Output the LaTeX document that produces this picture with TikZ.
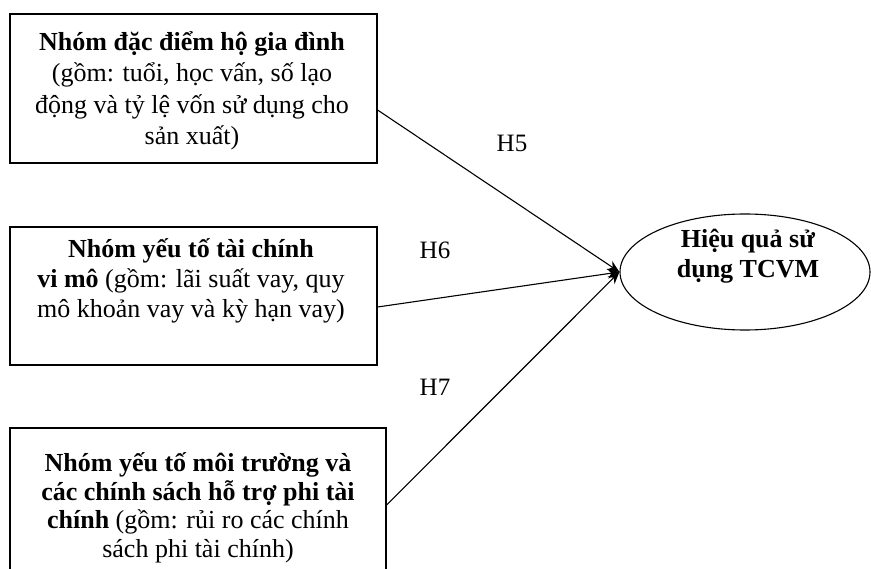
\documentclass[tikz,border=0pt]{standalone}
\usepackage{fontspec}
\setmainfont{Liberation Serif}
\usetikzlibrary{arrows.meta,shapes.geometric,calc}
\begin{document}
\begin{tikzpicture}[x=1pt,y=-1pt,
  boxshape/.style={draw=black,line width=1.1pt,rectangle,inner sep=0pt},
  boxtext/.style={align=center,inner sep=0pt,anchor=base,font=\fontsize{26}{#1}\selectfont},
  hyp/.style={inner sep=0pt,font=\fontsize{25}{30}\selectfont},
  conn/.style={draw=black,line width=1.1pt,-{Stealth[length=12pt,width=10pt]}}]
\clip (0,0) rectangle (871,569);
\fill[white] (0,0) rectangle (871,569);
% boxes
\node[boxshape,minimum width=367pt,minimum height=149pt] (b1) at (193.5,88.5) {};
\node[boxshape,minimum width=367pt,minimum height=138pt] (b2) at (193.5,296) {};
\node[boxshape,minimum width=376pt,minimum height=162pt] (b3) at (198,509) {};
% box texts (base anchor = last line baseline)
\node[boxtext=31.5] (t1) at (192,145) {\textbf{Nhóm đặc điểm hộ gia đình}\\(gồm: tuổi, học vấn, số lạo\\động và tỷ lệ vốn sử dụng cho\\sản xuất)};
\node[boxtext=30] (t2) at (191,318) {\textbf{Nhóm yếu tố tài chính}\\\textbf{vi mô} (gồm: lãi suất vay, quy\\mô khoản vay và kỳ hạn vay)};
\node[boxtext=28.5] (t3) at (198,557) {\textbf{Nhóm yếu tố môi trường và}\\\textbf{các chính sách hỗ trợ phi tài}\\\textbf{chính} (gồm: rủi ro các chính\\sách phi tài chính)};
% ellipse
\node[draw=black,line width=1.1pt,ellipse,minimum width=250pt,minimum height=116pt,inner sep=0pt] (e) at (745,272) {};
\node[boxtext=30] (et) at (748,278) {\textbf{Hiệu quả sử}\\\textbf{dụng TCVM}};
% connectors
\coordinate (s1) at ([yshift=-21.5pt]b1.east);
\coordinate (s2) at ([yshift=-11pt]b2.east);
\coordinate (s3) at ([yshift=4pt]b3.east);
\draw[conn] (s1) -- (e.west);
\draw[conn] (s2) -- (e.west);
\draw[conn] (s3) -- (e.west);
% labels
\node[hyp] (h5) at (512,143) {H5};
\node[hyp] (h6) at (435,250) {H6};
\node[hyp] (h7) at (435,387) {H7};
\end{tikzpicture}
\end{document}
